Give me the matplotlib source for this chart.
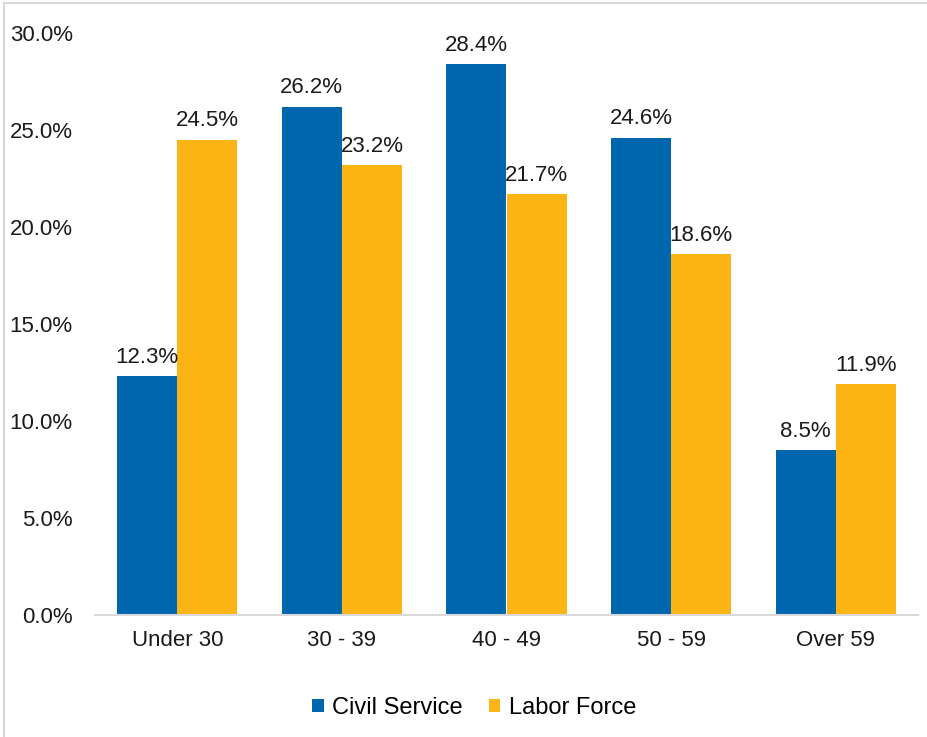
import numpy as np
import matplotlib.pyplot as plt
from matplotlib.lines import Line2D

plt.rcParams['font.family'] = ['Liberation Sans', 'DejaVu Sans']

ageGroups = ["Under 30", "30 - 39", "40 - 49", "50 - 59", "Over 59"]
civilService = [12.3, 26.2, 28.4, 24.6, 8.5]
laborForce = [24.5, 23.2, 21.7, 18.6, 11.9]

blue = "#0066AE"
gold = "#FDB515"
fs = 16

fig = plt.figure(figsize=(9.28, 7.37), dpi=100)
ax = fig.add_axes([95/928, 1-615/737, 823/928, 582/737])

x = np.arange(len(ageGroups))
w = 0.365
barsOne = ax.bar(x - w/2, civilService, w, color=blue, label="Civil Service")
barsTwo = ax.bar(x + w/2, laborForce, w, color=gold, label="Labor Force")

for bars in (barsOne, barsTwo):
    for b in bars:
        ax.annotate(f"{b.get_height():.1f}%", (b.get_x() + b.get_width()/2, b.get_height()),
                    xytext=(0, 6), textcoords="offset points", ha="center", va="bottom",
                    fontsize=fs, color="#1a1a1a")

ax.set_xlim(-0.5, 4.5)
ax.set_ylim(0, 30)
ax.set_yticks(np.arange(0, 31, 5))
ax.set_yticklabels([f"{v:.1f}%" for v in np.arange(0, 31, 5)])
ax.set_xticks(x)
ax.set_xticklabels(ageGroups)
ax.tick_params(axis="both", length=0, labelsize=fs, colors="#1a1a1a")
ax.tick_params(axis="y", pad=16)
ax.tick_params(axis="x", pad=11)

for s in ["top", "right", "left"]:
    ax.spines[s].set_visible(False)
ax.spines["bottom"].set_color("#D9D9D9")
ax.spines["bottom"].set_linewidth(1.5)

ax.legend(loc="center", bbox_to_anchor=(474/928, 1-708/737), bbox_transform=fig.transFigure,
          ncol=2, frameon=False, fontsize=17, handlelength=0.5, handleheight=0.5,
          handletextpad=0.35, columnspacing=1.1)

# light border of the chart area
fig.add_artist(Line2D([4/928, 4/928], [0, 1-3/737], color="#D9D9D9", lw=1.5))
fig.add_artist(Line2D([4/928, 1], [1-3/737, 1-3/737], color="#D9D9D9", lw=1.5))

fig.savefig("out.png", dpi=100)
